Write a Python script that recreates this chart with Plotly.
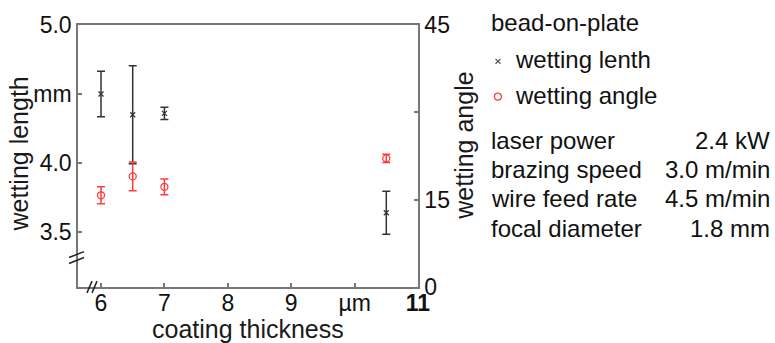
import plotly.graph_objects as go

# ---- data ----
thickness = [6.0, 6.5, 7.0, 10.5]
wetting_length = [4.50, 4.35, 4.36, 3.64]
wetting_length_err = [0.165, 0.355, 0.045, 0.155]
wetting_angle = [15.75, 19.0, 17.2, 22.1]
wetting_angle_err = [1.46, 2.47, 1.35, 0.7]
stray_x = [11.13]
stray_angle = [31.0]

x_ticks = [6, 7, 8, 9, 10, 11]
x_ticktext = ["6", "7", "8", "9", "µm", "<b>11</b>"]
y1_ticks = [3.5, 4.0, 4.5, 5.0]
y1_ticktext = ["3.5", "4.0", "mm", "5.0"]
y2_ticks = [0, 15, 30, 45]
y2_ticktext = ["0", "15", "", "45"]

legend_title = "bead-on-plate"
legend_items = ["wetting lenth", "wetting angle"]
param_names = ["laser power", "brazing speed", "wire feed rate", "focal diameter"]
param_values = ["2.4 kW", "3.0 m/min", "4.5 m/min", "1.8 mm"]

W, H = 775, 343
L, R, T, B = 78, 357, 20, 56
PW, PH = W - L - R, H - T - B

def px(xp):
    return (xp - L) / PW

def py(yp):
    return (H - B - yp) / PH

FONT = "Liberation Sans, Arial, sans-serif"
BLACK = "#333333"
RED = "#ff3b3b"
AX = "#777777"

fig = go.Figure()
fig.add_trace(go.Scatter(
    x=thickness, y=wetting_length, mode="markers", yaxis="y",
    marker=dict(symbol="x-thin", size=5, color=BLACK, line=dict(width=1.2, color=BLACK)),
    error_y=dict(type="data", array=wetting_length_err, color=BLACK, thickness=1.5, width=4),
    showlegend=False))
fig.add_trace(go.Scatter(
    x=thickness, y=wetting_angle, mode="markers", yaxis="y2",
    marker=dict(symbol="circle-open", size=7, color=RED, line=dict(width=1.3, color=RED)),
    error_y=dict(type="data", array=wetting_angle_err, color=RED, thickness=1.5, width=4),
    showlegend=False))
fig.add_trace(go.Scatter(
    x=stray_x, y=stray_angle, mode="markers", yaxis="y2", cliponaxis=False,
    marker=dict(symbol="circle-open", size=6, color="#666666", line=dict(width=1.2, color="#666666")),
    showlegend=False))

axis_common = dict(showline=True, linecolor=AX, linewidth=1.5, ticks="inside",
                   ticklen=4, tickwidth=1.5, tickcolor=AX, showgrid=False, zeroline=False,
                   tickfont=dict(family=FONT, size=23, color="#111111"))

fig.update_layout(
    width=W, height=H, margin=dict(l=L, r=R, t=T, b=B),
    paper_bgcolor="white", plot_bgcolor="white",
    font=dict(family=FONT, size=24, color="#111111"),
    xaxis=dict(range=[5.637, 11.0], tickvals=x_ticks, ticktext=x_ticktext,
               mirror=True, ticklabelstandoff=-5, **axis_common),
    yaxis=dict(range=[3.102, 5.0], tickvals=y1_ticks, ticktext=y1_ticktext, **axis_common),
    yaxis2=dict(range=[0, 45], tickvals=y2_ticks, ticktext=y2_ticktext, overlaying="y",
                side="right", **axis_common),
)

ann = []
# axis titles
ann.append(dict(text="wetting length", x=px(19), y=py(152), textangle=-90,
                font=dict(size=25, color="#1a1a1a")))
ann.append(dict(text="wetting angle", x=px(464), y=py(143), textangle=-90,
                font=dict(size=25, color="#1a1a1a")))
ann.append(dict(text="coating thickness", x=px(248), y=py(330),
                font=dict(size=25, color="#1a1a1a")))
# legend
ann.append(dict(text=legend_title, x=px(489), y=py(17), xanchor="left"))
ann.append(dict(text=legend_items[0], x=px(513), y=py(55), xanchor="left"))
ann.append(dict(text=legend_items[1], x=px(513), y=py(92), xanchor="left"))
rows_y = [138, 167, 197, 227]
for name, val, yy in zip(param_names, param_values, rows_y):
    ann.append(dict(text=name, x=px(489), y=py(yy), xanchor="left"))
    ann.append(dict(text=val, x=px(772), y=py(yy), xanchor="right"))
for a in ann:
    a.update(xref="paper", yref="paper", showarrow=False)
    a.setdefault("xanchor", "center")
    a["yanchor"] = "middle"
fig.update_layout(annotations=ann)

shapes = []
# legend symbols
s = 2.5
shapes.append(dict(type="line", x0=px(498 - s), y0=py(57 - s), x1=px(498 + s), y1=py(57 + s),
                   line=dict(color="#555555", width=1.2)))
shapes.append(dict(type="line", x0=px(498 - s), y0=py(57 + s), x1=px(498 + s), y1=py(57 - s),
                   line=dict(color="#555555", width=1.2)))
r = 3.5
shapes.append(dict(type="circle", x0=px(498 - r), y0=py(93 - r), x1=px(498 + r), y1=py(93 + r),
                   line=dict(color=RED, width=1.3)))
# axis break marks
for (x0, y0, x1, y1) in [(69, 257, 84, 251), (69, 263, 84, 257),
                         (87, 293, 92, 281), (92, 293, 97, 281)]:
    shapes.append(dict(type="line", x0=px(x0), y0=py(y0), x1=px(x1), y1=py(y1),
                       line=dict(color="#222222", width=1.5)))
for sh in shapes:
    sh.update(xref="paper", yref="paper", layer="above")
fig.update_layout(shapes=shapes)

fig.write_html("out.html")
